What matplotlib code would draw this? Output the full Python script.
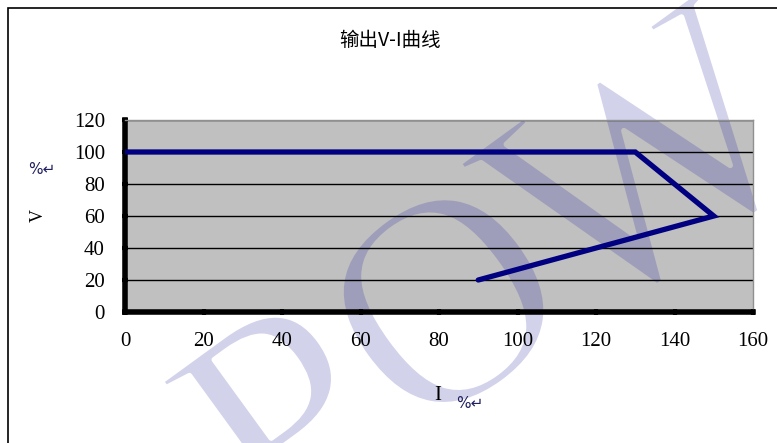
import matplotlib.pyplot as plt
import matplotlib.patheffects as pe
from matplotlib.patches import Rectangle

# data
cur_i = [0, 130, 150, 90]
volt_v = [100, 100, 60, 20]
x_ticks = [0, 20, 40, 60, 80, 100, 120, 140, 160]
y_ticks = [0, 20, 40, 60, 80, 100, 120]

serif = ['Liberation Serif', 'DejaVu Sans']
cjk = ['Noto Sans CJK SC', 'DejaVu Sans']

fig = plt.figure(figsize=(7.77, 4.43), dpi=100)
fig.patch.set_facecolor('white')

# outer frame (left and top edges visible)
fig.add_artist(Rectangle((8/777, -0.5), 2, 1.5 - 8/443, transform=fig.transFigure,
                         fill=False, lw=1.2, ec='black'))

ax = fig.add_axes([125/777, 1 - 312/443, 628/777, 192/443])
ax.set_facecolor('#c0c0c0')
ax.plot(cur_i, volt_v, color='#000080', lw=3.8, solid_joinstyle='miter',
        solid_capstyle='round', zorder=3)
ax.set_xlim(0, 160)
ax.set_ylim(0, 120)
ax.set_xticks(x_ticks)
ax.set_yticks(y_ticks)
ax.yaxis.grid(True, color='black', lw=1)
ax.set_axisbelow(True)

for s in ['top', 'right']:
    ax.spines[s].set_color('#909090')
    ax.spines[s].set_linewidth(1)
for s in ['left', 'bottom']:
    ax.spines[s].set_linewidth(4)
    ax.spines[s].set_capstyle('projecting')
ax.tick_params(direction='inout', length=5, width=3, color='black', pad=12)
for lab in ax.get_xticklabels() + ax.get_yticklabels():
    lab.set_family(serif)
    lab.set_fontsize(15)

fig.text(390/777, 1 - 40/443, '输出V-I曲线', family=cjk, fontsize=14,
         ha='center', va='center')
fig.text(38/777, 1 - 215/443, 'V', family=serif, fontsize=13, rotation=90,
         ha='center', va='center')
fig.text(42/777, 1 - 170/443, '%↵', family=['DejaVu Sans'], fontsize=11,
         ha='center', va='center', color='#202060')
fig.text(438/777, 1 - 396/443, 'I', family=serif, fontsize=15,
         ha='center', va='center')
fig.text(470/777, 1 - 404/443, '%↵', family=['DejaVu Sans'], fontsize=11,
         ha='center', va='center', color='#202060')

# watermark letters (pixel centres), light on white, darker over the grey plot
wm = [('P', 300, 440, 225), ('O', 459, 322, 215), ('W', 660, 182, 232)]
for ch, px, py, fs in wm:
    fig.text(px/777, 1 - py/443, ch, family=serif, fontsize=fs, rotation=36,
             rotation_mode='anchor', ha='center', va='center', color='#d2d2eb',
             zorder=-1, path_effects=[pe.Stroke(linewidth=4, foreground='white')])
    ax.text(px/777, 1 - py/443, ch, transform=fig.transFigure, family=serif,
            fontsize=fs, rotation=36, rotation_mode='anchor', ha='center',
            va='center', color='#9e9eba', zorder=0.3, clip_on=True,
            path_effects=[pe.Stroke(linewidth=4, foreground='#c0c0c0')])

fig.savefig('out.png', dpi=100)
